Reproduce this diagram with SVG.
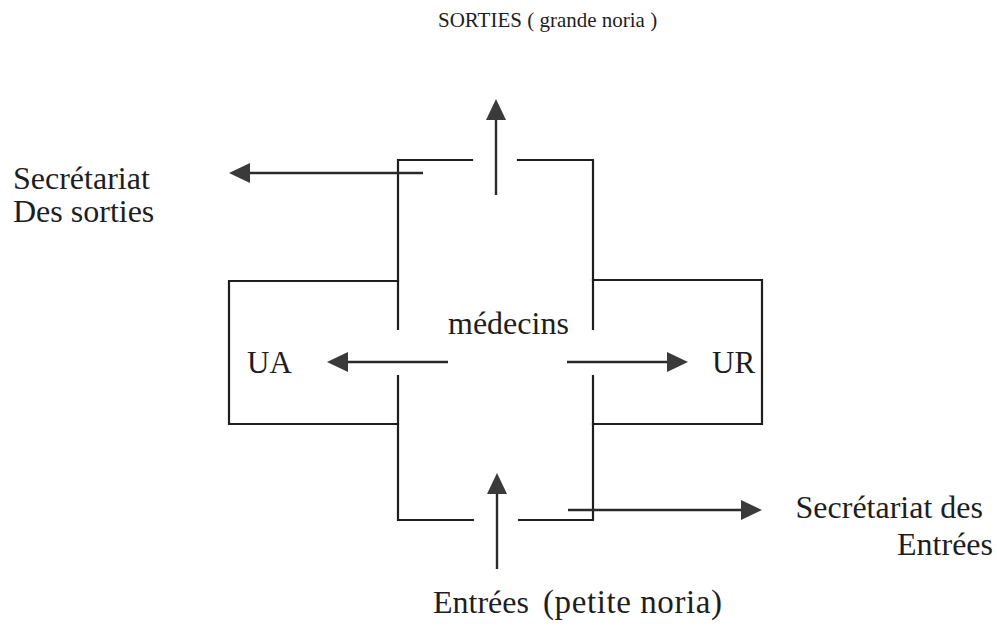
<svg xmlns="http://www.w3.org/2000/svg" width="997" height="638" viewBox="0 0 997 638">
  <style>
    .wall { fill: none; stroke: #1e1e1e; stroke-width: 2.2; stroke-linecap: square; }
    .flow { fill: none; stroke: #2a2a2a; stroke-width: 2.4; }
    .lbl { font-family: "Liberation Serif", "Times New Roman", serif; font-size: 32px; fill: #1e1e1e; }
    .unit { font-size: 31px; }
    .title { font-family: "Liberation Serif", "Times New Roman", serif; font-size: 21px; fill: #1e1e1e; }
  </style>
  <defs>
    <marker id="head" markerUnits="userSpaceOnUse" markerWidth="21" markerHeight="20" refX="0" refY="10" orient="auto" overflow="visible">
      <path d="M0,0 L21,10 L0,20 Z" fill="#3a3a3a"/>
    </marker>
  </defs>

  <rect width="997" height="638" fill="#ffffff"/>

  <!-- cross-shaped plan of the service -->
  <g id="service-plan">
    <path class="wall" d="M472,160 H398 V329"/>
    <path class="wall" d="M518,160 H593 V329"/>
    <path class="wall" d="M398,281 H229 V424 H398"/>
    <path class="wall" d="M593,280 H762 V424 H593"/>
    <path class="wall" d="M398,376 V520 H473"/>
    <path class="wall" d="M593,376 V520 H519"/>
  </g>

  <!-- patient flows -->
  <g id="connectors">
    <line class="flow" x1="496" y1="195" x2="496" y2="120" marker-end="url(#head)"/>
    <line class="flow" x1="423" y1="173" x2="250" y2="173" marker-end="url(#head)"/>
    <line class="flow" x1="448" y1="362" x2="348" y2="362" marker-end="url(#head)"/>
    <line class="flow" x1="567" y1="362" x2="667" y2="362" marker-end="url(#head)"/>
    <line class="flow" x1="497" y1="569" x2="497" y2="494" marker-end="url(#head)"/>
    <line class="flow" x1="568" y1="510" x2="741" y2="510" marker-end="url(#head)"/>
  </g>

  <g id="sorties">
    <text class="title" x="438" y="27">SORTIES ( grande noria )</text>
  </g>
  <g id="secretariat-sorties">
    <text class="lbl" x="13" y="189">Secrétariat</text>
    <text class="lbl" x="13" y="222">Des sorties</text>
  </g>
  <g id="medecins">
    <text class="lbl" x="448" y="334" font-size="32.5">médecins</text>
  </g>
  <g id="ua">
    <text class="lbl unit" x="247" y="373">UA</text>
  </g>
  <g id="ur">
    <text class="lbl unit" x="712" y="373">UR</text>
  </g>
  <g id="secretariat-entrees">
    <text class="lbl" x="983" y="518" text-anchor="end">Secrétariat des</text>
    <text class="lbl" x="993" y="555" text-anchor="end">Entrées</text>
  </g>
  <g id="entrees">
    <text class="lbl" y="613"><tspan x="433">Entrées</tspan> <tspan x="543" font-size="33" textLength="179" lengthAdjust="spacing">(petite noria)</tspan></text>
  </g>
</svg>
